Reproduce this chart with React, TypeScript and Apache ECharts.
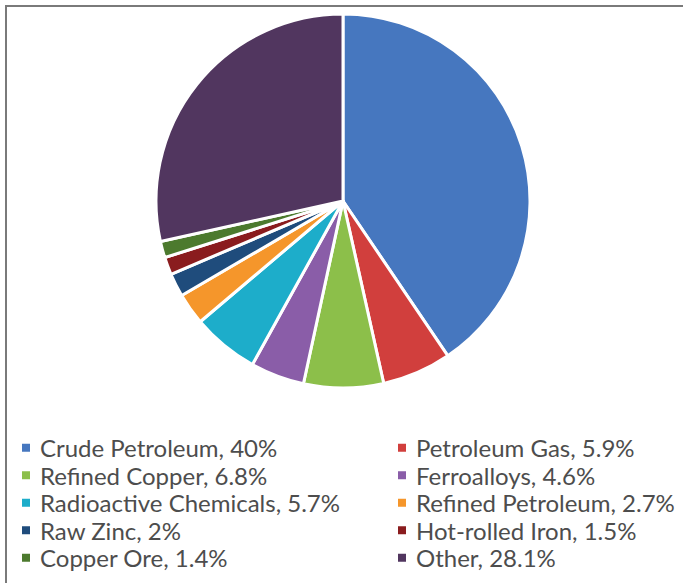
import React, { useEffect, useRef } from "react";
import * as echarts from "echarts";

const categories = [
  "Crude Petroleum",
  "Petroleum Gas",
  "Refined Copper",
  "Ferroalloys",
  "Radioactive Chemicals",
  "Refined Petroleum",
  "Raw Zinc",
  "Hot-rolled Iron",
  "Copper Ore",
  "Other",
];
const values = [40, 5.9, 6.8, 4.6, 5.7, 2.7, 2, 1.5, 1.4, 28.1];
const colors = [
  "#4677BF",
  "#D13F3D",
  "#8CBF4A",
  "#8A5DA8",
  "#1DADCA",
  "#F5962B",
  "#1F4C7C",
  "#8A1C1E",
  "#4C7A2E",
  "#51365F",
];
const leftLegend = ["Crude Petroleum", "Refined Copper", "Radioactive Chemicals", "Raw Zinc", "Copper Ore"];
const rightLegend = ["Petroleum Gas", "Ferroalloys", "Refined Petroleum", "Hot-rolled Iron", "Other"];

export default function App() {
  const ref = useRef<HTMLDivElement>(null);
  useEffect(() => {
    if (!ref.current) return;
    const chart = echarts.init(ref.current, null, { renderer: "svg" });
    const fmt = (name: string) => {
      const i = categories.indexOf(name);
      return `${name}, ${values[i]}%`;
    };
    const legendBase = {
      orient: "vertical" as const,
      top: 434,
      padding: 0,
      itemWidth: 10,
      itemHeight: 10,
      itemGap: 0,
      icon: "rect",
      formatter: fmt,
      textStyle: {
        fontFamily: "Lato",
        fontSize: 24,
        color: "#4d4d4d",
        lineHeight: 27.5,
        height: 27.5,
        padding: [0, 0, 0, 4],
      },
    };
    chart.setOption({
      animation: false,
      color: colors,
      graphic: [
        {
          type: "rect",
          shape: { x: 6, y: 6, width: 700, height: 600 },
          style: { fill: "none", stroke: "#7a7a7a", lineWidth: 2 },
          silent: true,
        },
      ],
      legend: [
        { ...legendBase, left: 20, data: leftLegend },
        { ...legendBase, left: 396, data: rightLegend },
      ],
      series: [
        {
          type: "pie",
          center: [343, 201],
          radius: 187,
          startAngle: 90,
          clockwise: true,
          label: { show: false },
          labelLine: { show: false },
          itemStyle: { borderColor: "#ffffff", borderWidth: 3 },
          data: categories.map((c, i) => ({ name: c, value: values[i] })),
        },
      ],
    });
    return () => chart.dispose();
  }, []);
  return (
    <div
      ref={ref}
      style={{ position: "fixed", left: 0, top: 0, width: 683, height: 583, background: "#fff" }}
    />
  );
}
